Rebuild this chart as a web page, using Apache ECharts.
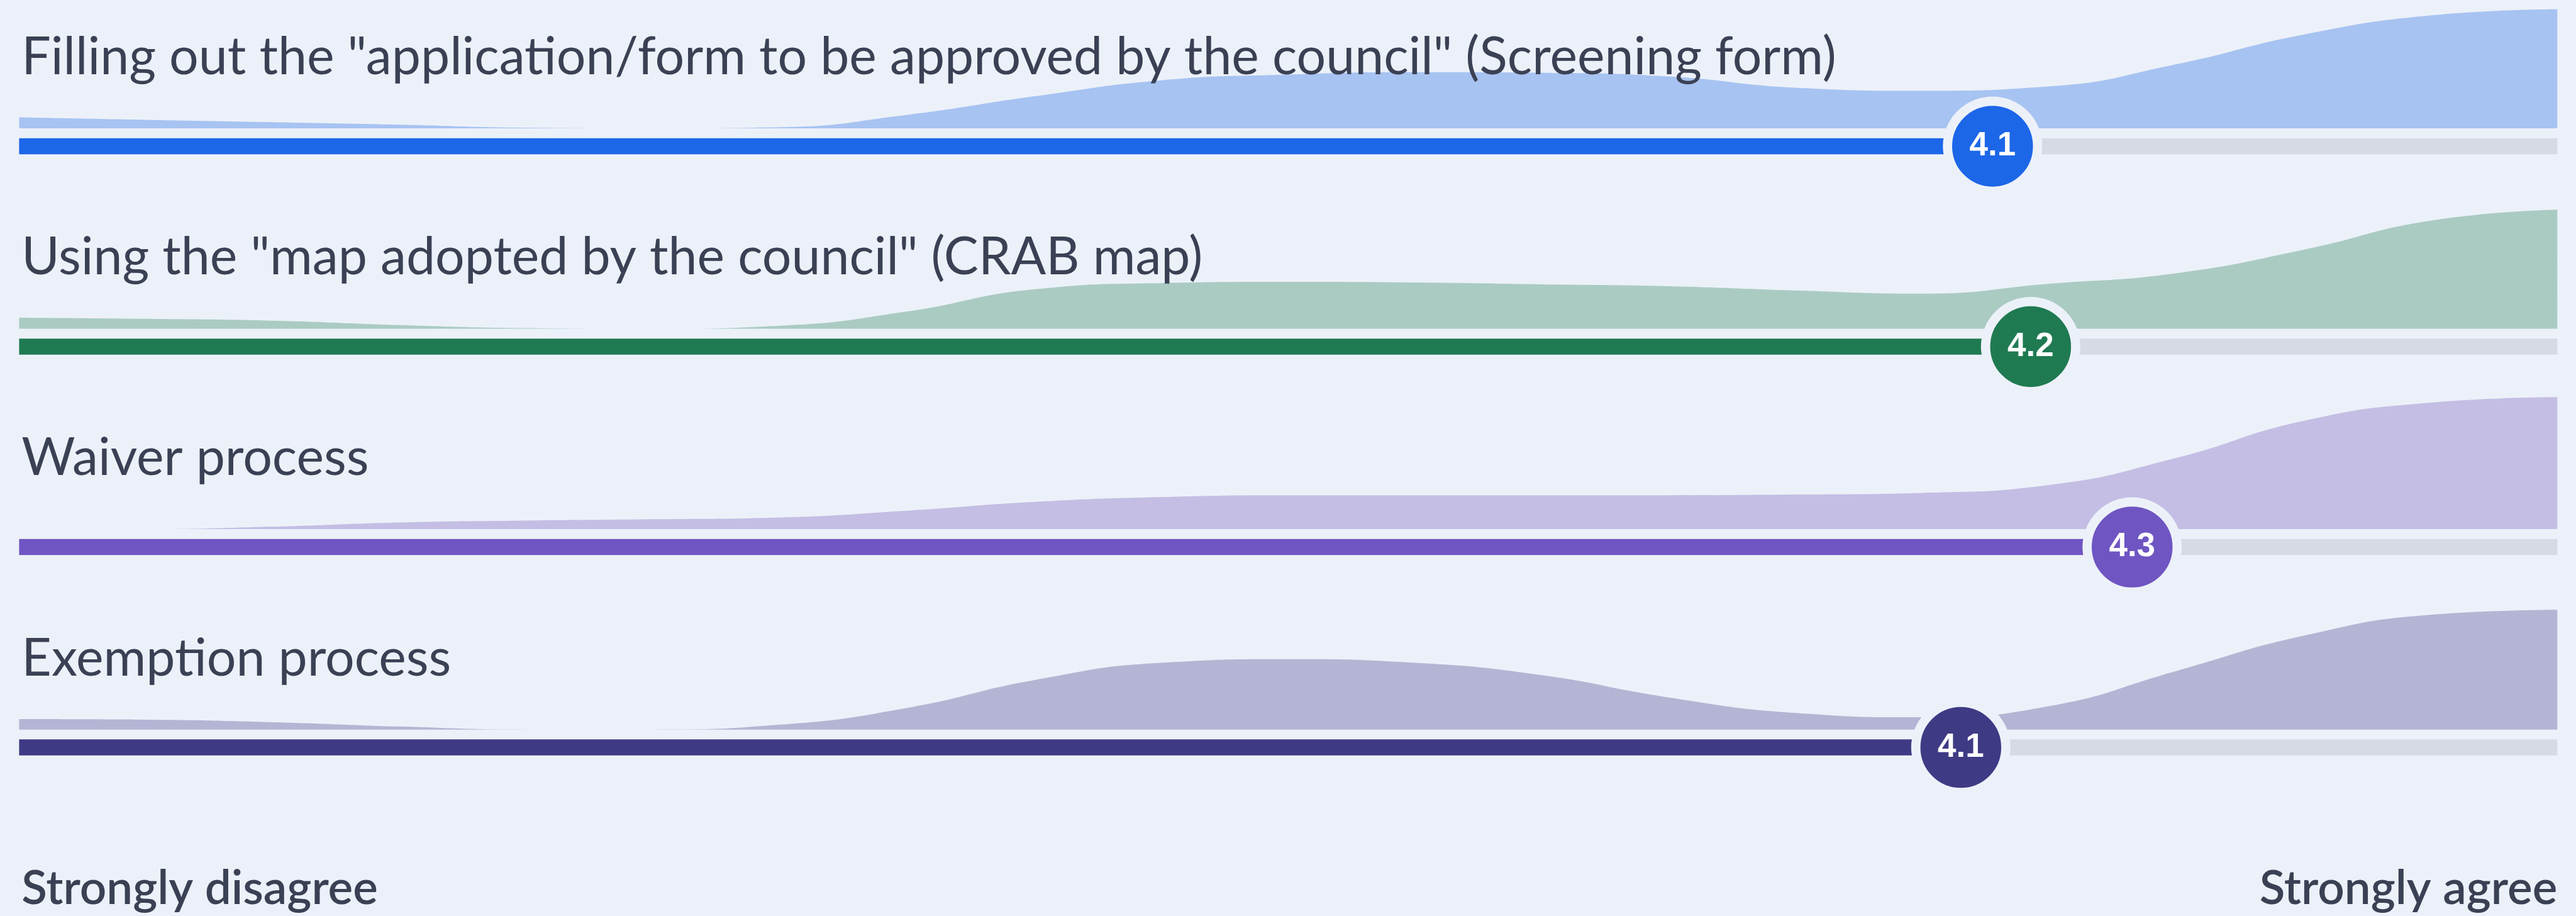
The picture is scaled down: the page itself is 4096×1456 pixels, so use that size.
<!DOCTYPE html>
<html>
<head>
<meta charset="utf-8">
<title>Process ratings</title>
<script src="https://cdn.jsdelivr.net/npm/echarts@6/dist/echarts.min.js"></script>
<style>
  html, body { margin: 0; padding: 0; background: #ecf1f9; }
  #chart { width: 4096px; height: 1456px; }
</style>
</head>
<body>
<div id="chart"></div>
<script>
  // positions on the 1 (strongly disagree) .. 5 (strongly agree) scale
  var scores = [1.0, 1.2, 1.4, 1.6, 1.8, 2.0, 2.2, 2.4, 2.6, 2.8, 3.0,
                3.2, 3.4, 3.6, 3.8, 4.0, 4.2, 4.4, 4.6, 4.8, 5.0];

  var titles = [
    'Filling out the "application/form to be approved by the council" (Screening form)',
    'Using the "map adopted by the council" (CRAB map)',
    'Waiver process',
    'Exemption process'
  ];

  // average score per item
  var means = [4.11, 4.17, 4.33, 4.06];

  // answer density per item (relative, tallest peak = 100)
  var densityScreening = [8.4, 6.5, 4.7, 2.8, 0.5, 0, 0.9, 10.3, 24.3, 36.4, 40.7,
                          42.5, 42.1, 39.3, 30.8, 28.5, 31.8, 48.6, 71.0, 85.5, 90.2];
  var densityCrab      = [8.4, 7.5, 6.1, 2.8, 0.5, 0, 2.3, 13.1, 29.9, 34.6, 35.5,
                          35.0, 33.6, 32.2, 29.0, 26.6, 34.1, 42.1, 59.8, 81.8, 90.2];
  var densityWaiver    = [0, 0, 1.9, 5.1, 6.5, 7.5, 8.9, 14.0, 20.6, 24.3, 25.7,
                          25.7, 25.7, 25.7, 26.2, 27.5, 33.5, 54.0, 82.0, 95.8, 100];
  var densityExemption = [7.9, 7.5, 5.6, 2.3, 0, 0, 3.7, 16.4, 37.4, 50.5, 53.3,
                          50.5, 41.1, 24.3, 12.6, 9.3, 17.8, 44.4, 71.0, 86.9, 90.7];

  var scaleLabels = ['Strongly disagree', 'Strongly agree'];

  var densities = [densityScreening, densityCrab, densityWaiver, densityExemption];
  var barColors = ['#1c66e8', '#1f7a52', '#6f55c2', '#3f3a84'];
  var areaColors = ['#a7c3f1', '#aacbc2', '#c4bee4', '#b4b5d4'];
  var trackColor = '#d6dae4';
  var bg = '#ecf1f9';
  var textColor = '#3b4154';

  // everything was measured on the 4174px wide original
  var S = 0.981;
  function px(v) { return v * S; }

  var X0 = 31, X1 = 4145;           // scale ends
  var ROW0 = 208, ROW_STEP = 324.7; // density baseline of first row, row spacing
  var UNIT = 2.14;                  // px per density unit
  var Y_MIN = -30, Y_MAX = 90;
  var BAR_Y = -13.5;

  var grids = [], xAxes = [], yAxes = [], series = [], graphics = [];

  for (var i = 0; i < 4; i++) {
    var base = ROW0 + i * ROW_STEP;
    grids.push({
      left: px(X0),
      right: 4096 - px(X1),
      top: px(base - Y_MAX * UNIT),
      height: px((Y_MAX - Y_MIN) * UNIT)
    });
    xAxes.push({ gridIndex: i, type: 'value', min: 1, max: 5, show: false });
    yAxes.push({ gridIndex: i, type: 'value', min: Y_MIN, max: Y_MAX, show: false });

    var d = densities[i];
    series.push({
      type: 'line',
      xAxisIndex: i, yAxisIndex: i,
      data: scores.map(function (s, k) { return [s, d[k]]; }),
      smooth: 0.5,
      symbol: 'none',
      clip: false,
      lineStyle: { width: 0 },
      areaStyle: { color: areaColors[i], opacity: 1 },
      z: 1
    });
    // grey rest of the track
    series.push({
      type: 'line',
      xAxisIndex: i, yAxisIndex: i,
      data: [[means[i], BAR_Y], [5, BAR_Y]],
      symbol: 'none',
      lineStyle: { color: trackColor, width: px(26), cap: 'butt' },
      z: 2
    });
    // filled part up to the mean
    series.push({
      type: 'line',
      xAxisIndex: i, yAxisIndex: i,
      data: [[1, BAR_Y], [means[i], BAR_Y]],
      symbol: 'none',
      lineStyle: { color: barColors[i], width: px(26), cap: 'butt' },
      z: 3
    });
    series.push({
      type: 'scatter',
      xAxisIndex: i, yAxisIndex: i,
      data: [[means[i], BAR_Y]],
      symbol: 'circle',
      symbolSize: px(146),
      clip: false,
      itemStyle: { color: barColors[i], borderColor: bg, borderWidth: px(15), opacity: 1 },
      label: {
        show: true,
        position: 'inside',
        formatter: function (p) { return p.value[0].toFixed(1); },
        color: '#ffffff',
        fontFamily: 'Liberation Sans',
        fontWeight: 'bold',
        fontSize: px(54)
      },
      z: 5
    });

    var fs = 84;
    graphics.push({
      type: 'text',
      z: 100,
      style: {
        text: titles[i],
        x: px(35),
        y: px(120 + i * ROW_STEP - 0.32 * fs),
        font: '400 ' + px(fs) + 'px Lato',
        fill: textColor,
        align: 'left',
        verticalAlign: 'middle'
      }
    });
  }

  var lfs = 76;
  graphics.push({
    type: 'text',
    z: 100,
    style: {
      text: scaleLabels[0], x: px(35), y: px(1465 - 0.32 * lfs),
      font: '600 ' + px(lfs) + 'px Lato', fill: textColor,
      align: 'left', verticalAlign: 'middle'
    }
  });
  graphics.push({
    type: 'text',
    z: 100,
    style: {
      text: scaleLabels[1], x: px(X1), y: px(1465 - 0.32 * lfs),
      font: '600 ' + px(lfs) + 'px Lato', fill: textColor,
      align: 'right', verticalAlign: 'middle'
    }
  });

  var chart = echarts.init(document.getElementById('chart'));
  chart.setOption({
    backgroundColor: bg,
    animation: false,
    grid: grids,
    xAxis: xAxes,
    yAxis: yAxes,
    series: series,
    graphic: graphics
  });
</script>
</body>
</html>
